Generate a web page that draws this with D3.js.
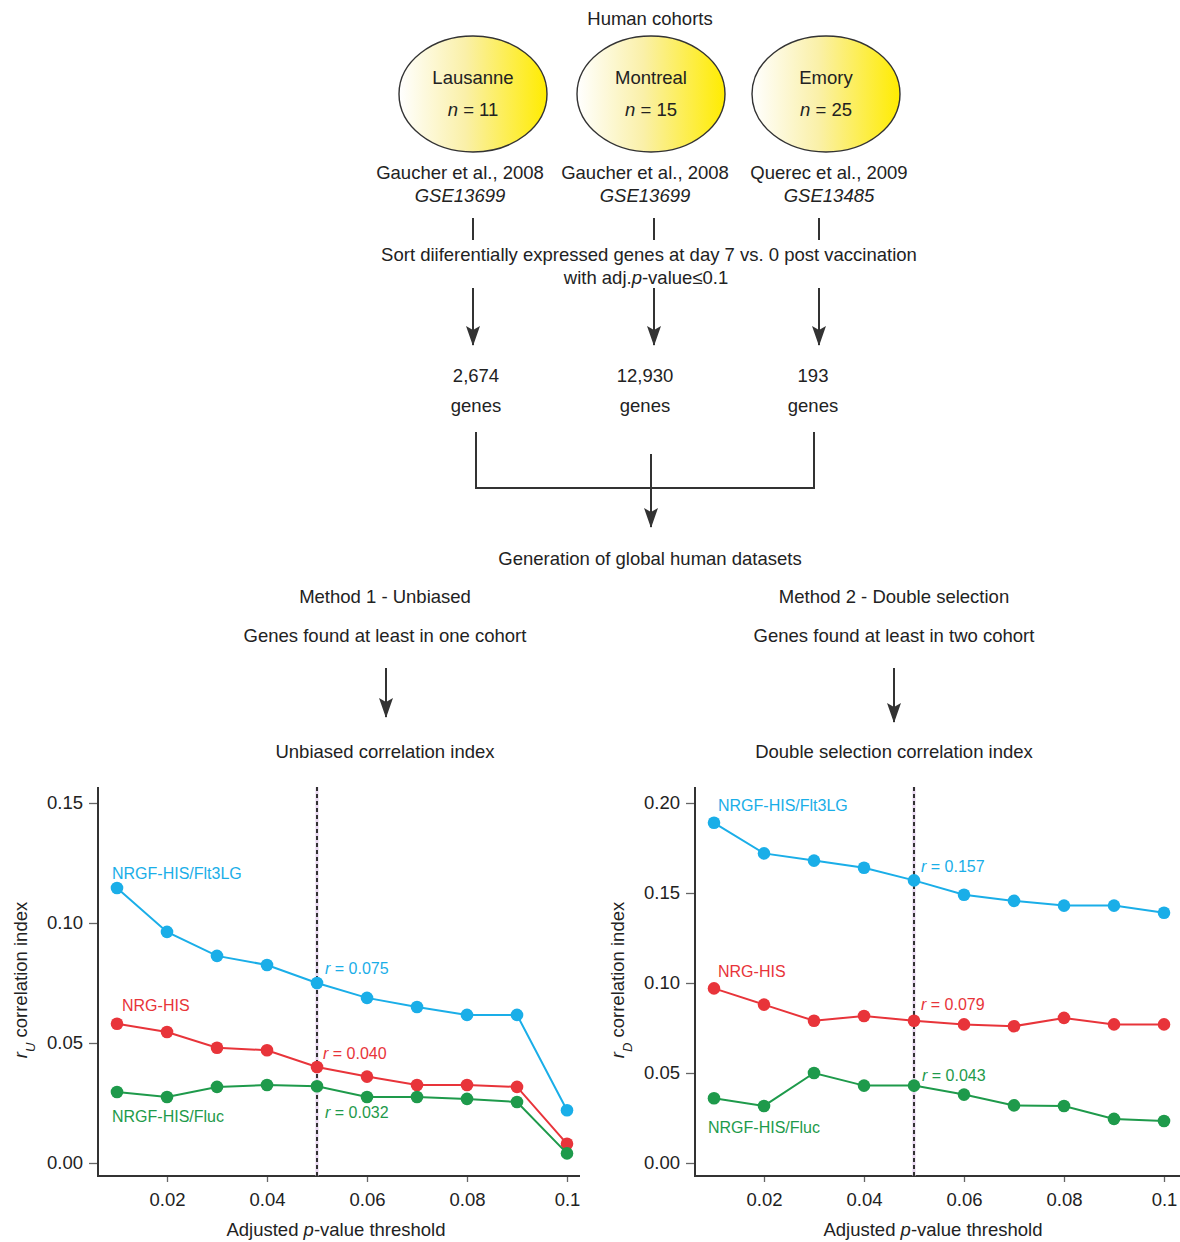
<!DOCTYPE html>
<html>
<head>
<meta charset="utf-8">
<script src="https://cdn.jsdelivr.net/npm/d3@7"></script>
<style>
  html, body { margin: 0; padding: 0; background: #fff; }
  svg { display: block; font-family: "Liberation Sans", Arial, Helvetica, sans-serif; }
</style>
</head>
<body>
<svg id="chart" width="1180" height="1242"></svg>
<script>
// ---------- DATA ----------
const thresholds = [0.01, 0.02, 0.03, 0.04, 0.05, 0.06, 0.07, 0.08, 0.09, 0.1];

const seriesNames = ["NRGF-HIS/Flt3LG", "NRG-HIS", "NRGF-HIS/Fluc"];

// Method 1 - unbiased correlation index (r_U)
const unbiasedFlt3LG = [0.1146, 0.0963, 0.0863, 0.0825, 0.075, 0.0688, 0.065, 0.0617, 0.0617, 0.022];
const unbiasedNRG    = [0.058, 0.0546, 0.048, 0.047, 0.040, 0.036, 0.0325, 0.0325, 0.0317, 0.008];
const unbiasedFluc   = [0.0296, 0.0275, 0.0317, 0.0325, 0.032, 0.0275, 0.0275, 0.0267, 0.0254, 0.004];

// Method 2 - double selection correlation index (r_D)
const doubleFlt3LG = [0.189, 0.172, 0.168, 0.164, 0.157, 0.149, 0.1456, 0.143, 0.143, 0.139];
const doubleNRG    = [0.097, 0.088, 0.079, 0.0817, 0.079, 0.077, 0.076, 0.0806, 0.077, 0.077];
const doubleFluc   = [0.036, 0.0317, 0.050, 0.043, 0.043, 0.038, 0.032, 0.0317, 0.0245, 0.0233];

const unbiasedR = ["0.075", "0.040", "0.032"];
const doubleR   = ["0.157", "0.079", "0.043"];

const xTicks = [0.02, 0.04, 0.06, 0.08, 0.1];
const xTickLabels = ["0.02", "0.04", "0.06", "0.08", "0.1"];
const unbiasedYTicks = [0, 0.05, 0.10, 0.15];
const doubleYTicks = [0, 0.05, 0.10, 0.15, 0.20];
const cutoff = 0.05;

const cohorts = ["Lausanne", "Montreal", "Emory"];
const cohortN = [11, 15, 25];
const cohortRefs = ["Gaucher et al., 2008", "Gaucher et al., 2008", "Querec et al., 2009"];
const cohortGSE = ["GSE13699", "GSE13699", "GSE13485"];
const geneCounts = ["2,674", "12,930", "193"];

// ---------- STYLE ----------
const colors = ["#1aaee8", "#e8343a", "#1e9a4b"];
const ink = "#222";
const lineInk = "#333";

const svg = d3.select("#chart");

// arrow marker (points along +x, oriented automatically)
const defs = svg.append("defs");
defs.append("marker")
  .attr("id", "arrow").attr("viewBox", "0 0 20 14")
  .attr("refX", 19).attr("refY", 7)
  .attr("markerWidth", 20).attr("markerHeight", 14)
  .attr("markerUnits", "userSpaceOnUse")
  .attr("orient", "auto")
  .append("path").attr("d", "M0,0 L4,7 L0,14 L20,7 Z").attr("fill", lineInk);

const grad = defs.append("linearGradient").attr("id", "ellGrad")
  .attr("x1", "0%").attr("x2", "100%").attr("y1", "0%").attr("y2", "0%");
grad.append("stop").attr("offset", "0%").attr("stop-color", "#ffffff");
grad.append("stop").attr("offset", "45%").attr("stop-color", "#faf0a8");
grad.append("stop").attr("offset", "100%").attr("stop-color", "#ffec00");

function txt(x, y, s, opts = {}) {
  return svg.append("text").attr("x", x).attr("y", y)
    .attr("text-anchor", opts.anchor || "middle")
    .attr("font-size", opts.size || 18.5)
    .attr("fill", opts.fill || ink)
    .attr("font-style", opts.italic ? "italic" : null)
    .text(s);
}
function line(x1, y1, x2, y2, arrow) {
  return svg.append("line").attr("x1", x1).attr("y1", y1).attr("x2", x2).attr("y2", y2)
    .attr("stroke", lineInk).attr("stroke-width", 2)
    .attr("marker-end", arrow ? "url(#arrow)" : null);
}

// ---------- FLOWCHART ----------
txt(650, 25, "Human cohorts");
const ellX = [473, 651, 826];
const refX = [460, 645, 829];
const vlineX = [473, 654, 819];
const geneX = [476, 645, 813];

cohorts.forEach((c, i) => {
  svg.append("ellipse").attr("cx", ellX[i]).attr("cy", 94).attr("rx", 74).attr("ry", 58)
    .attr("fill", "url(#ellGrad)").attr("stroke", lineInk).attr("stroke-width", 1.4);
  txt(ellX[i], 84, c);
  const t = svg.append("text").attr("x", ellX[i]).attr("y", 116).attr("text-anchor", "middle")
    .attr("font-size", 18.5).attr("fill", ink);
  t.append("tspan").attr("font-style", "italic").text("n");
  t.append("tspan").text(" = " + cohortN[i]);
  txt(refX[i], 179, cohortRefs[i]);
  txt(refX[i], 202, cohortGSE[i], { italic: true });
  line(vlineX[i], 218, vlineX[i], 240);
  line(vlineX[i], 288, vlineX[i], 345, true);
  txt(geneX[i], 382, geneCounts[i]);
  txt(geneX[i], 412, "genes");
});

txt(649, 261, "Sort diiferentially expressed genes at day 7 vs. 0 post vaccination");
{
  const t = svg.append("text").attr("x", 646).attr("y", 284).attr("text-anchor", "middle")
    .attr("font-size", 18.5).attr("fill", ink);
  t.append("tspan").text("with adj.");
  t.append("tspan").attr("font-style", "italic").text("p");
  t.append("tspan").text("-value\u22640.1");
}

// bracket
svg.append("path").attr("d", "M476,432 L476,488 L814,488 L814,432")
  .attr("fill", "none").attr("stroke", lineInk).attr("stroke-width", 2);
line(651, 454, 651, 527, true);

txt(650, 565, "Generation of global human datasets");
txt(385, 603, "Method 1 - Unbiased");
txt(894, 603, "Method 2 - Double selection");
txt(385, 642, "Genes found at least in one cohort");
txt(894, 642, "Genes found at least in two cohort");
line(386, 668, 386, 717, true);
line(894, 668, 894, 722, true);
txt(385, 758, "Unbiased correlation index");
txt(894, 758, "Double selection correlation index");

// ---------- CHARTS ----------
function drawChart(cfg) {
  const g = svg.append("g");
  const x = d3.scaleLinear().domain([0.01, 0.1]).range([cfg.x0, cfg.x0 + 450]);
  const y = d3.scaleLinear().domain([0, cfg.ymax]).range([1163, 803]);
  const axisLeft = cfg.axisX, axisBottom = 1176;

  // y-axis
  const yAx = g.append("g").attr("transform", `translate(${axisLeft},0)`)
    .call(d3.axisLeft(y).tickValues(cfg.yTicks).tickFormat(d3.format(".2f")).tickSize(9).tickPadding(6));
  yAx.select(".domain").remove();
  yAx.selectAll(".tick line").attr("stroke", "#666").attr("stroke-width", 1.3);
  yAx.selectAll(".tick text").attr("font-size", 18.5).attr("fill", ink).attr("font-family", "Liberation Sans, Arial, sans-serif");

  // x-axis
  const xAx = g.append("g").attr("transform", `translate(0,${axisBottom})`)
    .call(d3.axisBottom(x).tickValues(xTicks).tickFormat((d, i) => xTickLabels[i]).tickSize(6).tickPadding(11));
  xAx.select(".domain").remove();
  xAx.selectAll(".tick line").attr("stroke", "#666").attr("stroke-width", 1.3);
  xAx.selectAll(".tick text").attr("font-size", 18.5).attr("fill", ink).attr("font-family", "Liberation Sans, Arial, sans-serif");

  // axis lines
  g.append("line").attr("x1", axisLeft).attr("x2", axisLeft).attr("y1", 787).attr("y2", axisBottom + 1)
    .attr("stroke", lineInk).attr("stroke-width", 2);
  g.append("line").attr("x1", axisLeft).attr("x2", cfg.axisRight).attr("y1", axisBottom).attr("y2", axisBottom)
    .attr("stroke", lineInk).attr("stroke-width", 2);

  // cutoff dashed line
  g.append("line").attr("x1", x(cutoff)).attr("x2", x(cutoff)).attr("y1", 787).attr("y2", axisBottom)
    .attr("stroke", "#e8d6f0").attr("stroke-width", 3);
  g.append("line").attr("x1", x(cutoff)).attr("x2", x(cutoff)).attr("y1", 787).attr("y2", axisBottom)
    .attr("stroke", "#333").attr("stroke-width", 2).attr("stroke-dasharray", "4,3");

  const lineGen = d3.line().x((d, i) => x(thresholds[i])).y(d => y(d));
  cfg.series.forEach((vals, si) => {
    g.append("path").attr("d", lineGen(vals)).attr("fill", "none")
      .attr("stroke", colors[si]).attr("stroke-width", 2);
    g.selectAll(null).data(vals).enter().append("circle")
      .attr("cx", (d, i) => x(thresholds[i])).attr("cy", d => y(d)).attr("r", 6.3)
      .attr("fill", colors[si]);
  });

  // series labels
  seriesNames.forEach((n, si) => {
    txt(cfg.labelPos[si][0], cfg.labelPos[si][1], n, { anchor: "start", size: 16, fill: colors[si] });
    const t = svg.append("text").attr("x", cfg.rPos[si][0]).attr("y", cfg.rPos[si][1])
      .attr("font-size", 16).attr("fill", colors[si]);
    t.append("tspan").attr("font-style", "italic").text("r");
    t.append("tspan").text(" = " + cfg.rVals[si]);
  });

  // y title
  const yt = svg.append("text")
    .attr("transform", `translate(${cfg.yTitleX},980) rotate(-90)`)
    .attr("text-anchor", "middle").attr("font-size", 18.5).attr("fill", ink);
  yt.append("tspan").attr("font-style", "italic").text("r");
  yt.append("tspan").attr("font-style", "italic").attr("font-size", 13).attr("baseline-shift", "sub").text(cfg.sub);
  yt.append("tspan").text(" correlation index");

  // x title
  const xt = svg.append("text").attr("x", cfg.xTitleX).attr("y", 1236)
    .attr("text-anchor", "middle").attr("font-size", 18.5).attr("fill", ink);
  xt.append("tspan").text("Adjusted ");
  xt.append("tspan").attr("font-style", "italic").text("p");
  xt.append("tspan").text("-value threshold");
}

drawChart({
  x0: 117, axisX: 98, axisRight: 580, ymax: 0.15, yTicks: unbiasedYTicks,
  series: [unbiasedFlt3LG, unbiasedNRG, unbiasedFluc],
  labelPos: [[112, 879], [122, 1011], [112, 1122]],
  rPos: [[325, 974], [323, 1059], [325, 1118]],
  rVals: unbiasedR, sub: "U", yTitleX: 27, xTitleX: 336
});
drawChart({
  x0: 714, axisX: 695, axisRight: 1180, ymax: 0.20, yTicks: doubleYTicks,
  series: [doubleFlt3LG, doubleNRG, doubleFluc],
  labelPos: [[718, 811], [718, 977], [708, 1133]],
  rPos: [[921, 872], [921, 1010], [922, 1081]],
  rVals: doubleR, sub: "D", yTitleX: 624, xTitleX: 933
});
</script>
</body>
</html>
